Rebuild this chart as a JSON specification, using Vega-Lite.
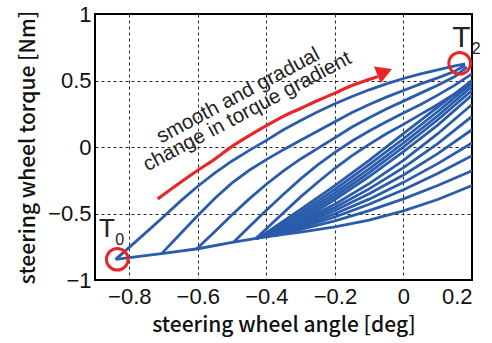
{
  "$schema": "https://vega.github.io/schema/vega-lite/v6.json",
  "width": 377,
  "height": 266,
  "autosize": "none",
  "padding": {"left": 95, "top": 14, "right": 20, "bottom": 63},
  "background": "white",
  "config": {
    "view": {"stroke": "#000", "strokeWidth": 2},
    "axis": {
      "domain": false,
      "ticks": false,
      "grid": true,
      "gridColor": "#000",
      "gridDash": [3, 3],
      "gridWidth": 1,
      "gridOpacity": 0.85,
      "labelFont": "Liberation Sans",
      "labelFontSize": 22,
      "labelColor": "#111",
      "titleFont": "Noto Sans CJK JP",
      "titleFontSize": 21,
      "titleFontWeight": 500,
      "titleColor": "#111"
    }
  },
  "datasets": {
    "curves": [
      {"c":"E0","x":-0.84,"y":-0.845},{"c":"E0","x":-0.8,"y":-0.832},{"c":"E0","x":-0.7,"y":-0.8},{"c":"E0","x":-0.6,"y":-0.765},{"c":"E0","x":-0.5,"y":-0.717},{"c":"E0","x":-0.43,"y":-0.687},{"c":"E0","x":-0.35,"y":-0.657},{"c":"E0","x":-0.3,"y":-0.64},{"c":"E0","x":-0.2,"y":-0.6},{"c":"E0","x":-0.1,"y":-0.55},{"c":"E0","x":0,"y":-0.48},{"c":"E0","x":0.1,"y":-0.395},{"c":"E0","x":0.2,"y":-0.29},
      {"c":"A","x":-0.84,"y":-0.845},{"c":"A","x":-0.8,"y":-0.755},{"c":"A","x":-0.75,"y":-0.64},{"c":"A","x":-0.7,"y":-0.525},{"c":"A","x":-0.65,"y":-0.405},{"c":"A","x":-0.6,"y":-0.295},{"c":"A","x":-0.55,"y":-0.195},{"c":"A","x":-0.5,"y":-0.105},{"c":"A","x":-0.45,"y":-0.025},{"c":"A","x":-0.4,"y":0.05},{"c":"A","x":-0.35,"y":0.13},{"c":"A","x":-0.3,"y":0.2},{"c":"A","x":-0.25,"y":0.265},{"c":"A","x":-0.2,"y":0.325},{"c":"A","x":-0.15,"y":0.38},{"c":"A","x":-0.1,"y":0.43},{"c":"A","x":-0.05,"y":0.475},{"c":"A","x":0,"y":0.515},{"c":"A","x":0.05,"y":0.55},{"c":"A","x":0.1,"y":0.58},{"c":"A","x":0.15,"y":0.61},{"c":"A","x":0.18,"y":0.625},
      {"c":"B","x":-0.705,"y":-0.8},{"c":"B","x":-0.65,"y":-0.65},{"c":"B","x":-0.6,"y":-0.515},{"c":"B","x":-0.55,"y":-0.385},{"c":"B","x":-0.5,"y":-0.27},{"c":"B","x":-0.45,"y":-0.175},{"c":"B","x":-0.4,"y":-0.095},{"c":"B","x":-0.35,"y":-0.02},{"c":"B","x":-0.3,"y":0.05},{"c":"B","x":-0.25,"y":0.12},{"c":"B","x":-0.2,"y":0.19},{"c":"B","x":-0.15,"y":0.26},{"c":"B","x":-0.1,"y":0.32},{"c":"B","x":-0.05,"y":0.375},{"c":"B","x":0,"y":0.425},{"c":"B","x":0.05,"y":0.475},{"c":"B","x":0.1,"y":0.52},{"c":"B","x":0.15,"y":0.57},{"c":"B","x":0.18,"y":0.615},
      {"c":"C","x":-0.603,"y":-0.765},{"c":"C","x":-0.55,"y":-0.635},{"c":"C","x":-0.5,"y":-0.51},{"c":"C","x":-0.45,"y":-0.39},{"c":"C","x":-0.4,"y":-0.28},{"c":"C","x":-0.35,"y":-0.18},{"c":"C","x":-0.3,"y":-0.09},{"c":"C","x":-0.25,"y":-0.01},{"c":"C","x":-0.2,"y":0.07},{"c":"C","x":-0.15,"y":0.15},{"c":"C","x":-0.1,"y":0.22},{"c":"C","x":-0.05,"y":0.285},{"c":"C","x":0,"y":0.345},{"c":"C","x":0.05,"y":0.405},{"c":"C","x":0.1,"y":0.465},{"c":"C","x":0.15,"y":0.53},{"c":"C","x":0.185,"y":0.6},
      {"c":"D","x":-0.496,"y":-0.717},{"c":"D","x":-0.45,"y":-0.6},{"c":"D","x":-0.4,"y":-0.475},{"c":"D","x":-0.35,"y":-0.355},{"c":"D","x":-0.3,"y":-0.24},{"c":"D","x":-0.25,"y":-0.135},{"c":"D","x":-0.2,"y":-0.04},{"c":"D","x":-0.15,"y":0.045},{"c":"D","x":-0.1,"y":0.12},{"c":"D","x":-0.05,"y":0.19},{"c":"D","x":0,"y":0.255},{"c":"D","x":0.05,"y":0.32},{"c":"D","x":0.1,"y":0.39},{"c":"D","x":0.15,"y":0.465},{"c":"D","x":0.2,"y":0.55},
      {"c":"E","x":-0.43,"y":-0.687},{"c":"E","x":-0.4,"y":-0.615},{"c":"E","x":-0.35,"y":-0.495},{"c":"E","x":-0.3,"y":-0.375},{"c":"E","x":-0.25,"y":-0.265},{"c":"E","x":-0.2,"y":-0.16},{"c":"E","x":-0.15,"y":-0.065},{"c":"E","x":-0.1,"y":0.02},{"c":"E","x":-0.05,"y":0.1},{"c":"E","x":0,"y":0.17},{"c":"E","x":0.05,"y":0.245},{"c":"E","x":0.1,"y":0.32},{"c":"E","x":0.15,"y":0.4},{"c":"E","x":0.2,"y":0.5},
      {"c":"G1","x":-0.42,"y":-0.68},{"c":"G1","x":-0.3,"y":-0.47},{"c":"G1","x":-0.2,"y":-0.29},{"c":"G1","x":-0.1,"y":-0.1},{"c":"G1","x":0,"y":0.1},{"c":"G1","x":0.1,"y":0.3},{"c":"G1","x":0.2,"y":0.5},
      {"c":"G2","x":-0.41,"y":-0.677},{"c":"G2","x":-0.3,"y":-0.494},{"c":"G2","x":-0.2,"y":-0.318},{"c":"G2","x":-0.1,"y":-0.132},{"c":"G2","x":0,"y":0.062},{"c":"G2","x":0.1,"y":0.267},{"c":"G2","x":0.2,"y":0.48},
      {"c":"G3","x":-0.4,"y":-0.675},{"c":"G3","x":-0.3,"y":-0.515},{"c":"G3","x":-0.2,"y":-0.345},{"c":"G3","x":-0.1,"y":-0.165},{"c":"G3","x":0,"y":0.03},{"c":"G3","x":0.1,"y":0.235},{"c":"G3","x":0.2,"y":0.455},
      {"c":"G4","x":-0.39,"y":-0.672},{"c":"G4","x":-0.3,"y":-0.535},{"c":"G4","x":-0.2,"y":-0.37},{"c":"G4","x":-0.1,"y":-0.192},{"c":"G4","x":0,"y":0.0},{"c":"G4","x":0.1,"y":0.205},{"c":"G4","x":0.2,"y":0.425},
      {"c":"G5","x":-0.37,"y":-0.665},{"c":"G5","x":-0.3,"y":-0.556},{"c":"G5","x":-0.2,"y":-0.395},{"c":"G5","x":-0.1,"y":-0.222},{"c":"G5","x":0,"y":-0.035},{"c":"G5","x":0.1,"y":0.165},{"c":"G5","x":0.2,"y":0.39},
      {"c":"F1","x":-0.43,"y":-0.687},{"c":"F1","x":-0.3,"y":-0.562},{"c":"F1","x":-0.2,"y":-0.43},{"c":"F1","x":-0.1,"y":-0.275},{"c":"F1","x":0,"y":-0.1},{"c":"F1","x":0.1,"y":0.1},{"c":"F1","x":0.2,"y":0.32},
      {"c":"F2","x":-0.43,"y":-0.687},{"c":"F2","x":-0.3,"y":-0.572},{"c":"F2","x":-0.2,"y":-0.455},{"c":"F2","x":-0.1,"y":-0.315},{"c":"F2","x":0,"y":-0.155},{"c":"F2","x":0.1,"y":0.025},{"c":"F2","x":0.2,"y":0.23},
      {"c":"F3","x":-0.43,"y":-0.687},{"c":"F3","x":-0.3,"y":-0.583},{"c":"F3","x":-0.2,"y":-0.478},{"c":"F3","x":-0.1,"y":-0.352},{"c":"F3","x":0,"y":-0.21},{"c":"F3","x":0.1,"y":-0.05},{"c":"F3","x":0.2,"y":0.13},
      {"c":"F4","x":-0.43,"y":-0.687},{"c":"F4","x":-0.3,"y":-0.595},{"c":"F4","x":-0.2,"y":-0.502},{"c":"F4","x":-0.1,"y":-0.392},{"c":"F4","x":0,"y":-0.266},{"c":"F4","x":0.1,"y":-0.125},{"c":"F4","x":0.2,"y":0.03},
      {"c":"F5","x":-0.43,"y":-0.687},{"c":"F5","x":-0.3,"y":-0.607},{"c":"F5","x":-0.2,"y":-0.526},{"c":"F5","x":-0.1,"y":-0.43},{"c":"F5","x":0,"y":-0.322},{"c":"F5","x":0.1,"y":-0.2},{"c":"F5","x":0.2,"y":-0.065},
      {"c":"F6","x":-0.43,"y":-0.687},{"c":"F6","x":-0.3,"y":-0.62},{"c":"F6","x":-0.2,"y":-0.555},{"c":"F6","x":-0.1,"y":-0.478},{"c":"F6","x":0,"y":-0.39},{"c":"F6","x":0.1,"y":-0.29},{"c":"F6","x":0.2,"y":-0.178}
    ],
    "arrow": [
      {"x":-0.717,"y":-0.39},{"x":-0.65,"y":-0.265},{"x":-0.6,"y":-0.175},{"x":-0.55,"y":-0.09},{"x":-0.5,"y":0.005},{"x":-0.45,"y":0.085},{"x":-0.4,"y":0.16},{"x":-0.345,"y":0.238},{"x":-0.3,"y":0.29},{"x":-0.25,"y":0.35},{"x":-0.2,"y":0.405},{"x":-0.164,"y":0.448},{"x":-0.12,"y":0.49},{"x":-0.075,"y":0.53}
    ],
    "head": [{"x":-0.055,"y":0.565}],
    "circles": [{"x":-0.835,"y":-0.844},{"x":0.164,"y":0.629}],
    "notes": [
      {"x":-0.4737,"y":0.346,"t":"smooth and gradual"},
      {"x":-0.4474,"y":0.2256,"t":"change in torque gradient"}
    ],
    "bigT": [
      {"x":-0.888,"y":-0.677,"t":"T","s":26},
      {"x":0.1423,"y":0.7556,"t":"T","s":30}
    ],
    "subs": [
      {"x":-0.841,"y":-0.735,"t":"0"},
      {"x":0.199,"y":0.7,"t":"2"}
    ]
  },
  "encoding": {
    "x": {"field": "x", "type": "quantitative",
      "scale": {"domain": [-0.9, 0.2], "nice": false, "zero": false},
      "axis": {"values": [-0.8, -0.6, -0.4, -0.2, 0, 0.2], "format": "~g", "title": "steering wheel angle [deg]", "labelPadding": 6, "titlePadding": 7}},
    "y": {"field": "y", "type": "quantitative",
      "scale": {"domain": [-1, 1], "nice": false, "zero": false},
      "axis": {"values": [-1, -0.5, 0, 0.5, 1], "format": "~g", "title": "steering wheel torque [Nm]", "labelPadding": 4, "titlePadding": 9}}
  },
  "layer": [
    {"data": {"name": "curves"}, "mark": {"type": "line", "color": "#2b5cab", "strokeWidth": 2.8, "clip": true},
     "encoding": {"detail": {"field": "c"}}},
    {"data": {"name": "arrow"}, "mark": {"type": "line", "color": "#e8262a", "strokeWidth": 3.2, "interpolate": "monotone"}, "encoding": {}},
    {"data": {"name": "head"}, "mark": {"type": "point", "shape": "triangle-right", "filled": true, "color": "#e8262a", "opacity": 1, "size": 330, "angle": -22}, "encoding": {}},
    {"data": {"name": "circles"}, "mark": {"type": "point", "shape": "circle", "filled": false, "stroke": "#e8262a", "strokeWidth": 3, "opacity": 1, "size": 470}, "encoding": {}},
    {"data": {"name": "notes"}, "mark": {"type": "text", "font": "Liberation Sans", "fontSize": 20.5, "angle": -28, "align": "center", "baseline": "alphabetic", "color": "#222"},
     "encoding": {"text": {"field": "t"}}},
    {"data": {"name": "bigT"}, "mark": {"type": "text", "font": "Liberation Sans", "align": "left", "baseline": "alphabetic", "color": "#222"},
     "encoding": {"text": {"field": "t"}, "size": {"field": "s", "type": "quantitative", "scale": null}}},
    {"data": {"name": "subs"}, "mark": {"type": "text", "font": "Liberation Sans", "fontSize": 16, "align": "left", "baseline": "alphabetic", "color": "#222"},
     "encoding": {"text": {"field": "t"}}}
  ]
}
